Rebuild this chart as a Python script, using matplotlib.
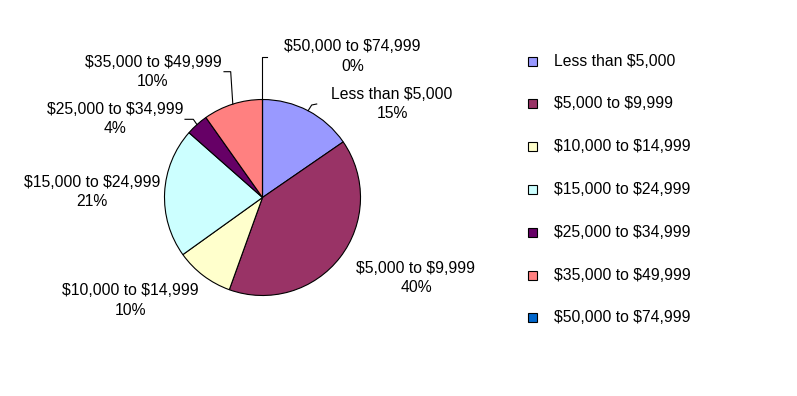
import matplotlib
matplotlib.use('Agg')
import matplotlib.pyplot as plt
import numpy as np
from matplotlib.patches import Rectangle

plt.rcParams['font.family'] = ['Liberation Sans', 'DejaVu Sans']
plt.rcParams['text.parse_math'] = False

# Income brackets and their shares (percent)
categories = ['Less than $5,000', '$5,000 to $9,999', '$10,000 to $14,999',
              '$15,000 to $24,999', '$25,000 to $34,999', '$35,000 to $49,999',
              '$50,000 to $74,999']
shares = [15.4, 40.1, 9.6, 21.4, 3.7, 9.8, 0.0]
colors = ['#9999FF', '#993366', '#FFFFCC', '#CCFFFF', '#660066', '#FF8080', '#0066CC']

# layout in pixel coords (y down)
W, H = 797, 396
CENTER = (262.5, 197.5)
RADIUS = 98
FS = 11.3

label_pos = [(392, 104), (416, 278), (130.5, 300.5), (92, 192),
             (115, 119), (153, 72), (352.5, 56.5)]
# leader lines: elbow then end point (None = no leader)
leaders = [[(311.7, 105), (316.7, 104)], None, None, None,
           [(193.3, 119.3), (185, 119.3)],
           [(230.7, 71.7), (224, 71.7)],
           [(262.5, 56.7), (267.3, 56.7)]]

fig = plt.figure(figsize=(W / 100, H / 100), dpi=100)
ax = fig.add_axes([0, 0, 1, 1])

wedges, _ = ax.pie(shares, colors=colors, center=CENTER, radius=RADIUS,
                   startangle=-90, counterclock=True,
                   wedgeprops=dict(edgecolor='black', linewidth=0.8))
ax.set_xlim(0, W)
ax.set_ylim(H, 0)
ax.set_aspect('auto')
ax.axis('off')

total = sum(shares)
for i, w in enumerate(wedges):
    pct = shares[i] / total * 100
    lx, ly = label_pos[i]
    ax.text(lx, ly, f'{categories[i]}\n{pct:.0f}%', ha='center', va='center',
            multialignment='center', fontsize=FS, linespacing=1.4)
    if leaders[i] is not None:
        mid = np.deg2rad((w.theta1 + w.theta2) / 2)
        ex = CENTER[0] + RADIUS * np.cos(mid)
        ey = CENTER[1] + RADIUS * np.sin(mid)
        pts = [(ex, ey)] + leaders[i]
        ax.plot([p[0] for p in pts], [p[1] for p in pts], color='black', lw=0.8)

# legend
leg_x, leg_y0, leg_dy = 528.5, 61, 42.8
for i, name in enumerate(categories):
    y = leg_y0 + i * leg_dy
    ax.add_patch(Rectangle((leg_x, y - 4.5), 9, 9, facecolor=colors[i],
                           edgecolor='black', linewidth=0.8))
    ax.text(554.5, y, name, ha='left', va='center', fontsize=FS)

fig.savefig('out.png', dpi=100)
